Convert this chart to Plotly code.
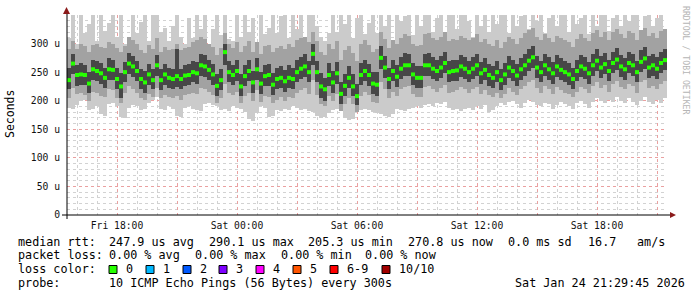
import pandas as pd
import plotly.graph_objects as go

# ---------------- data ----------------
times = pd.date_range("2026-01-23 15:36", periods=150, freq="12min")

median_rtt = [
    236,265,245,246,245,230,255,252,248,240,255,254,238,225,250,265,260,252,238,232,246,236,262,236,246,
    240,238,243,238,244,245,250,248,262,260,254,246,226,236,285,250,245,252,225,243,252,232,255,230,243,
    245,228,238,240,234,240,238,250,256,260,250,282,250,225,220,245,232,248,212,226,240,225,208,245,252,
    245,230,228,275,258,238,252,242,256,262,262,246,240,240,262,262,256,252,258,266,250,252,253,260,256,
    250,256,262,248,254,245,240,250,236,246,258,252,244,255,262,270,276,258,250,262,255,248,260,254,250,
    246,238,252,260,256,248,262,270,258,264,252,266,272,260,255,266,262,250,268,274,258,262,256,266,271,
]
ping_max = [
    310,350,300,362,318,335,362,305,360,322,336,362,312,355,300,306,362,318,338,362,305,350,362,320,328,
    304,330,362,312,300,345,310,362,325,358,300,325,362,315,350,308,305,362,312,362,320,345,300,358,316,
    328,362,318,348,362,310,360,325,362,300,352,362,330,312,305,318,362,320,362,335,362,310,345,362,316,
    336,362,318,358,330,362,305,362,340,348,362,315,360,330,355,362,320,345,362,318,358,362,325,356,362,
    340,312,362,330,358,320,362,335,352,362,318,360,330,348,362,325,362,340,360,318,345,362,330,358,362,
    320,362,335,345,362,316,362,330,355,362,322,345,362,330,362,340,350,362,318,348,362,330,345,362,325,
]
ping_min = [
    188,186,192,200,202,184,186,190,176,174,194,196,190,172,170,188,192,190,184,186,196,202,206,186,184,
    190,186,174,172,188,190,186,184,182,194,196,192,190,184,186,182,190,188,186,180,168,164,178,190,188,
    172,174,184,182,186,184,190,188,184,186,182,180,174,170,172,178,184,186,182,170,166,168,180,184,186,
    184,180,178,176,174,172,176,186,184,182,186,188,190,188,192,194,190,196,194,198,188,184,186,182,186,
    188,184,190,186,192,180,184,190,196,192,198,200,194,188,196,202,198,192,190,196,194,186,192,198,194,
    190,186,196,200,194,188,198,204,200,196,202,198,206,200,196,204,198,192,200,206,198,194,202,196,204,
]
upper_mid = [
    290,305,290,300,296,285,298,300,294,292,302,300,292,285,296,312,306,300,288,284,298,290,310,286,294,
    288,290,300,288,292,294,302,306,312,308,300,294,280,292,318,300,292,302,285,296,304,286,302,282,296,
    298,285,292,296,290,300,294,306,310,312,302,320,305,286,280,300,290,304,272,288,296,284,270,300,306,
    298,286,290,320,308,292,306,300,310,316,314,300,296,298,316,318,310,306,312,320,304,308,306,314,310,
    306,310,316,302,308,300,296,306,292,302,312,308,300,310,318,324,328,312,306,316,310,302,314,310,306,
    302,294,308,316,310,304,318,324,312,320,306,320,326,316,310,322,318,306,324,328,314,318,310,322,326,
]
lower_mid = [
    205,222,212,214,210,200,216,214,208,206,220,218,204,196,214,226,220,214,204,202,212,206,222,204,210,
    206,204,208,202,210,212,214,212,222,220,216,210,196,204,230,214,210,216,196,208,214,200,218,198,208,
    206,196,202,206,200,206,204,214,218,222,212,236,210,194,190,208,200,212,182,194,204,194,180,208,216,
    210,198,196,232,220,204,216,208,220,224,226,212,206,206,224,226,220,216,222,228,214,216,218,224,220,
    214,220,224,212,218,210,206,214,204,212,222,216,210,220,226,232,236,222,214,226,220,212,224,218,214,
    212,206,216,224,220,214,226,232,222,228,216,230,234,224,220,230,226,214,232,236,222,226,220,230,234,
]
upper_core = [
    258,282,262,266,262,250,272,270,266,258,274,272,258,248,268,284,278,270,256,252,264,256,280,256,264,
    258,256,290,256,262,264,270,268,282,280,272,264,246,256,300,270,262,272,246,262,272,252,274,250,262,
    264,248,258,260,254,262,258,272,276,282,270,300,270,248,240,266,252,268,232,246,260,246,230,266,272,
    264,250,250,296,278,258,272,262,276,284,282,266,260,260,282,284,276,272,278,286,270,272,272,280,276,
    270,276,282,268,274,264,260,270,256,266,278,272,264,275,282,290,296,278,270,282,276,268,280,274,270,
    266,258,272,280,276,268,282,290,278,284,272,286,292,280,275,286,282,270,288,294,278,282,276,286,291,
]
lower_core = [
    220,246,226,228,228,214,236,234,230,222,236,236,220,205,232,246,242,234,220,214,228,220,244,218,228,
    222,220,224,220,226,228,232,230,244,242,236,228,208,218,262,232,228,234,208,226,234,214,236,212,226,
    226,210,220,222,216,222,220,232,238,242,232,262,232,205,200,226,214,230,194,208,222,208,192,228,234,
    226,212,208,256,240,220,234,224,238,244,244,228,222,222,244,244,238,234,240,248,232,234,234,242,238,
    232,238,244,230,236,226,222,232,218,228,240,234,226,236,244,252,258,240,232,244,236,230,242,236,232,
    228,220,234,242,238,230,244,252,240,246,234,248,254,242,236,248,244,232,250,256,240,244,238,248,253,
]

y_tick_vals = [0, 50, 100, 150, 200, 250, 300]
y_tick_text = ["0", "50 u", "100 u", "150 u", "200 u", "250 u", "300 u"]
x_tick_vals = pd.date_range("2026-01-23 18:00", "2026-01-24 21:00", freq="3h")
x_tick_text = ["Fri 18:00", "", "Sat 00:00", "", "Sat 06:00", "", "Sat 12:00", "", "Sat 18:00", ""]

stats_line1 = [("median rtt:", 16), ("247.9 us avg", 107), ("290.1 us max", 207),
               ("205.3 us min", 306), ("270.8 us now", 406), ("0.0 ms sd", 506),
               ("16.7", 586), ("am/s", 635)]
stats_line2 = [("packet loss:", 16), ("0.00 % avg", 107), ("0.00 % max", 193),
               ("0.00 % min", 279), ("0.00 % now", 363)]
loss_labels = ["0", "1", "2", "3", "4", "5", "6-9", "10/10"]
loss_colors = ["#26ff00", "#00b8ff", "#0059ff", "#7e00ff", "#ff00ff", "#ff5500", "#ff0000", "#a10000"]
loss_box_x = [109, 146, 183, 219, 256, 293, 330, 382]
probe_text = "10 ICMP Echo Pings (56 Bytes) every 300s"
date_text = "Sat Jan 24 21:29:45 2026"

# ---------------- figure ----------------
W, H = 697, 297
L, R, T, B = 67, 667, 15, 215
BAR_W = 12 * 60 * 1000

def px(x):
    return (x - L) / (R - L)

def py(y):
    return (B - y) / (B - T)

fig = go.Figure()

def band(lo, hi, color):
    fig.add_trace(go.Bar(
        x=times, base=lo, y=[h - l for h, l in zip(hi, lo)],
        width=BAR_W, marker=dict(color=color, line=dict(width=0)),
        showlegend=False, hoverinfo="skip"))

band(ping_min, ping_max, "#cbcbcb")
band(lower_mid, upper_mid, "#a2a2a2")
band(lower_core, upper_core, "#474747")

fig.add_trace(go.Scatter(
    x=times, y=median_rtt, mode="markers",
    marker=dict(symbol="square", size=4, color="#26ff00", line=dict(width=0)),
    showlegend=False, hoverinfo="skip"))

mono = "DejaVu Sans Mono"

fig.update_layout(
    width=W, height=H,
    margin=dict(l=L, r=W - R, t=T, b=H - B, pad=0),
    paper_bgcolor="white", plot_bgcolor="white",
    barmode="overlay", bargap=0,
    showlegend=False,
    xaxis=dict(
        range=["2026-01-23 15:30", "2026-01-24 21:30"],
        tickmode="array", tickvals=x_tick_vals, ticktext=x_tick_text,
        showgrid=True, gridcolor="#eaa0a0", griddash="dot", gridwidth=1,
        minor=dict(dtick=3600000, showgrid=True, gridcolor="#d2d2d2", griddash="dot", gridwidth=1),
        showline=False, zeroline=False, ticks="",
        ticklabelstandoff=3,
        tickfont=dict(family=mono, size=9.7, color="#111"),
        fixedrange=True,
    ),
    yaxis=dict(
        range=[0, 350],
        tickmode="array", tickvals=y_tick_vals, ticktext=y_tick_text,
        showgrid=True, gridcolor="#eaa0a0", griddash="dot", gridwidth=1,
        minor=dict(dtick=10, showgrid=True, gridcolor="#d2d2d2", griddash="dot", gridwidth=1),
        showline=False, zeroline=False, ticks="",
        ticklabelstandoff=6,
        tickfont=dict(family=mono, size=9.7, color="#111"),
        fixedrange=True,
    ),
)

shapes = []
# axes
shapes.append(dict(type="line", xref="paper", yref="paper", x0=px(62), x1=px(671), y0=0, y1=0,
                   line=dict(color="black", width=1)))
shapes.append(dict(type="line", xref="paper", yref="paper", x0=0, x1=0, y0=py(219), y1=py(12),
                   line=dict(color="black", width=1)))
# arrows
shapes.append(dict(type="path", xref="paper", yref="paper",
                   path=f"M {px(670)} {py(212)} L {px(676)} {py(215)} L {px(670)} {py(218)} Z",
                   fillcolor="#8b1a1a", line=dict(width=0)))
shapes.append(dict(type="path", xref="paper", yref="paper",
                   path=f"M {px(63)} {py(14)} L {px(66.5)} {py(7)} L {px(70)} {py(14)} Z",
                   fillcolor="#8b1a1a", line=dict(width=0)))
# loss colour boxes
for bx, col in zip(loss_box_x, loss_colors):
    shapes.append(dict(type="rect", xref="paper", yref="paper",
                       x0=px(bx), x1=px(bx + 8), y0=py(273.5), y1=py(265.5),
                       fillcolor=col, line=dict(color="black", width=1)))
fig.update_layout(shapes=shapes)

annotations = []
FS = 11.75

def txt(s, x, y, **kw):
    d = dict(text=s.replace(" ", "\u00a0"), xref="paper", yref="paper", x=px(x), y=py(y),
             xanchor="left", yanchor="middle", showarrow=False,
             font=dict(family=mono, size=FS, color="black"))
    d.update(kw)
    annotations.append(d)

for s, x in stats_line1:
    txt(s, x, 241.5)
for s, x in stats_line2:
    txt(s, x, 255.3)
txt("loss color:", 16, 269.2)
for lab, bx in zip(loss_labels, loss_box_x):
    txt(lab, bx + 15, 269.2)
txt("probe:", 16, 283)
txt(probe_text, 107, 283)
txt(date_text, 513, 283)

# y axis title
annotations.append(dict(text="Seconds", xref="paper", yref="paper", x=px(10), y=py(114),
                        xanchor="center", yanchor="middle", textangle=-90, showarrow=False,
                        font=dict(family=mono, size=11.5, color="black")))
# credit
annotations.append(dict(text="RRDTOOL / TOBI OETIKER", xref="paper", yref="paper", x=px(686), y=py(60),
                        xanchor="center", yanchor="middle", textangle=90, showarrow=False,
                        font=dict(family=mono, size=8.2, color="#b5b5b5")))
fig.update_layout(annotations=annotations)

fig.write_html("out.html")
